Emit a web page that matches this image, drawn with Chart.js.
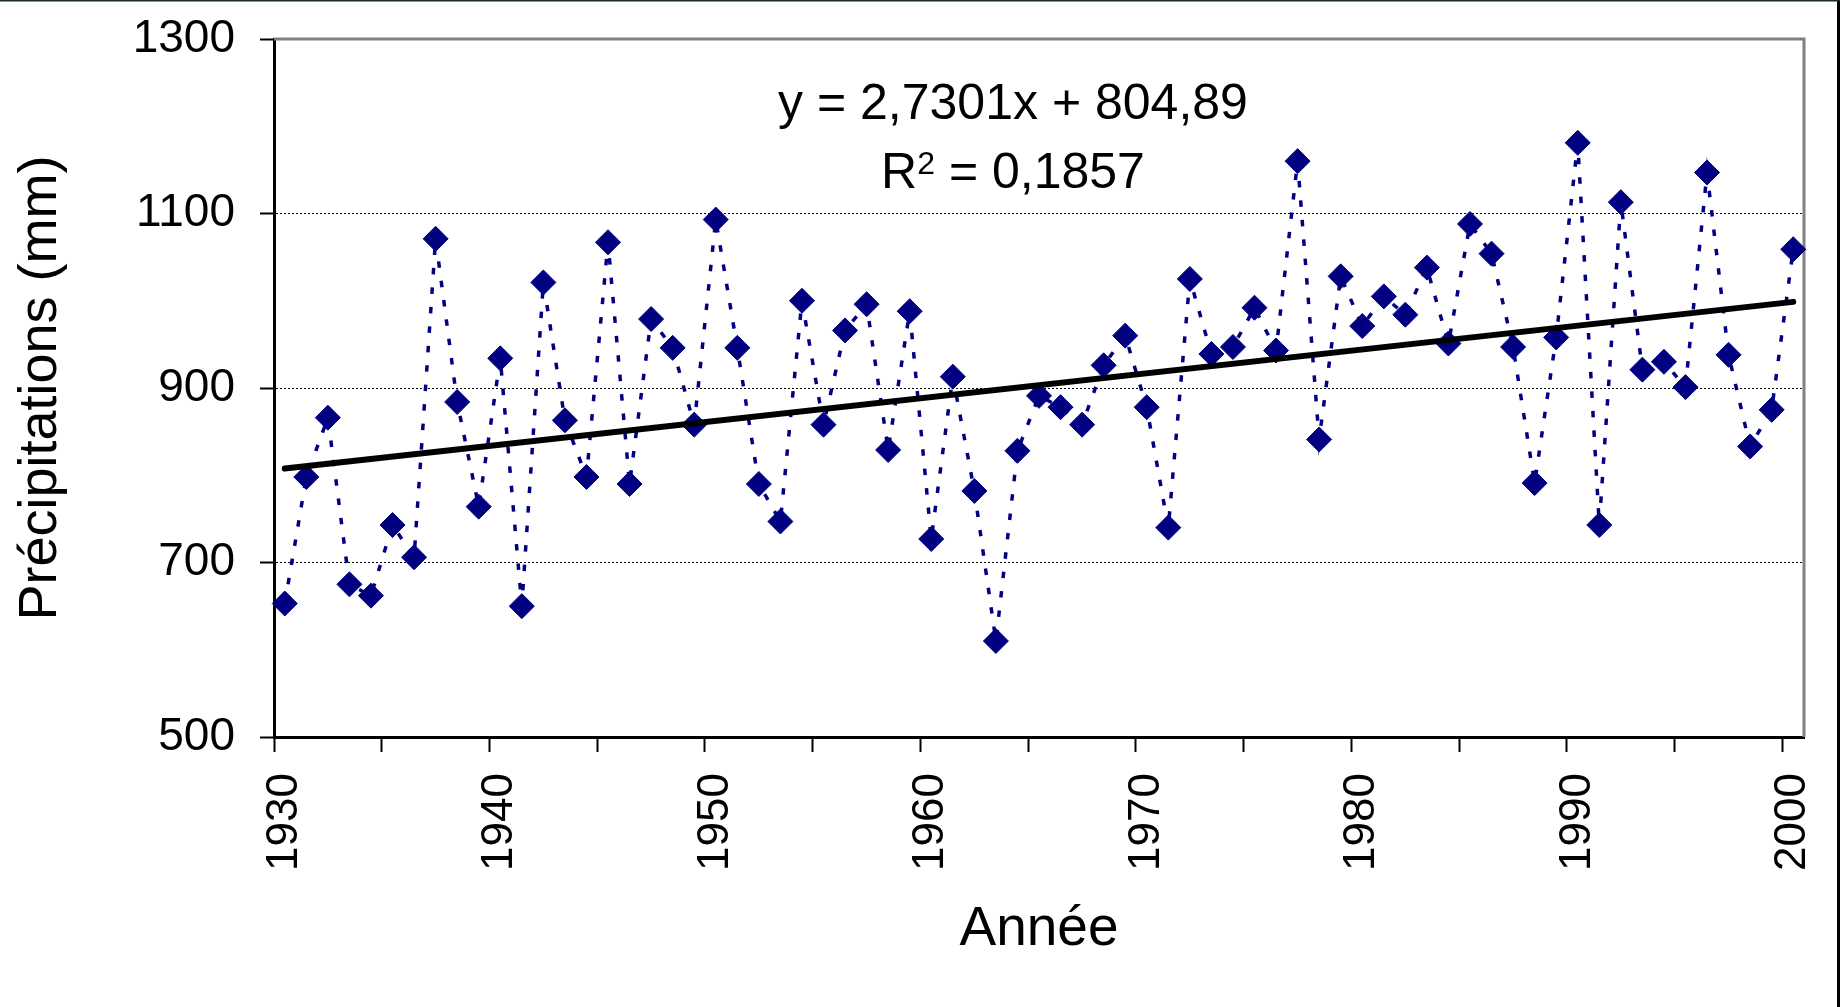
<!DOCTYPE html>
<html>
<head>
<meta charset="utf-8">
<script src="https://cdn.jsdelivr.net/npm/chart.js@4.4.0/dist/chart.umd.min.js"></script>
<style>
html,body{margin:0;padding:0;background:#fff;}
canvas{display:block;}
</style>
</head>
<body>
<canvas id="c" width="1840" height="1007"></canvas>
<script>
// ---- data ----
const years = ['1930','1931','1932','1933','1934','1935','1936','1937','1938','1939',
  '1940','1941','1942','1943','1944','1945','1946','1947','1948','1949',
  '1950','1951','1952','1953','1954','1955','1956','1957','1958','1959',
  '1960','1961','1962','1963','1964','1965','1966','1967','1968','1969',
  '1970','1971','1972','1973','1974','1975','1976','1977','1978','1979',
  '1980','1981','1982','1983','1984','1985','1986','1987','1988','1989',
  '1990','1991','1992','1993','1994','1995','1996','1997','1998','1999','2000'];

const precipitation = [653,798,866,675,662,743,706,1071,884,764,
  934,650,1021,863,798,1067,790,979,946,858,
  1093,946,790,747,1000,858,966,996,829,988,
  727,913,782,610,828,891,878,858,926,960,
  878,740,1025,939,947,992,943,1160,841,1028,
  971,1005,984,1038,951,1088,1054,947,791,958,
  1181,743,1113,921,930,901,1147,938,833,875,1059];

// trend line end values (first and last year)
const trendEnds = [807.62, 998.73];

const xTickLabels = ['1930','1940','1950','1960','1970','1980','1990','2000'];
const yTickValues = [500,700,900,1100,1300];

const equationText = 'y = 2,7301x + 804,89';
const r2Text = '0,1857';

const FONT = '"Liberation Sans", Arial, sans-serif';

const trendData = years.map((y, i) => i === 0 ? trendEnds[0] : (i === years.length - 1 ? trendEnds[1] : null));

const decor = {
  id: 'decor',
  beforeDraw(chart) {
    const {ctx, width, height} = chart;
    ctx.save();
    ctx.fillStyle = '#fff';
    ctx.fillRect(0, 0, width, height);
    ctx.restore();
  },
  beforeDatasetsDraw(chart) {
    const {ctx, chartArea: a} = chart;
    ctx.save();
    ctx.strokeStyle = '#808080';
    ctx.lineWidth = 3;
    ctx.beginPath();
    ctx.moveTo(a.left, a.top);
    ctx.lineTo(a.right, a.top);
    ctx.lineTo(a.right, a.bottom);
    ctx.stroke();
    ctx.restore();
  },
  afterDraw(chart) {
    const {ctx, chartArea: a, width, height} = chart;
    ctx.save();
    // outer chart frame (top and right visible)
    ctx.fillStyle = '#000';
    ctx.fillRect(width - 3, 0, 3, height);
    ctx.fillStyle = '#1c2b2b';
    ctx.fillRect(0, 0, width, 1.5);

    // regression equation
    const cx = a.left + (a.right - a.left) * 0.483;
    const big = '50px ' + FONT;
    const small = '32px ' + FONT;
    ctx.fillStyle = '#000';
    ctx.textBaseline = 'alphabetic';
    ctx.textAlign = 'center';
    ctx.font = big;
    ctx.fillText(equationText, cx, a.top + 80);

    const by = a.top + 149;
    ctx.textAlign = 'left';
    ctx.font = big;
    const wR = ctx.measureText('R').width;
    const rest = ' = ' + r2Text;
    const wRest = ctx.measureText(rest).width;
    ctx.font = small;
    const w2 = ctx.measureText('2').width;
    let x = cx - (wR + w2 + wRest) / 2;
    ctx.font = big;
    ctx.fillText('R', x, by); x += wR;
    ctx.font = small;
    ctx.fillText('2', x, by - 14); x += w2;
    ctx.font = big;
    ctx.fillText(rest, x, by);
    ctx.restore();
  }
};

new Chart(document.getElementById('c'), {
  type: 'line',
  data: {
    labels: years,
    datasets: [
      {
        label: 'Tendance',
        data: trendData,
        spanGaps: true,
        borderColor: '#000',
        borderWidth: 6,
        borderCapStyle: 'round',
        pointRadius: 0,
        fill: false,
        order: 0
      },
      {
        label: 'Précipitations',
        data: precipitation,
        borderColor: '#000080',
        borderWidth: 3.5,
        borderDash: [6.5, 13],
        pointStyle: 'rectRot',
        pointRadius: 12.5,
        pointBackgroundColor: '#000080',
        pointBorderColor: '#000080',
        pointBorderWidth: 1,
        tension: 0,
        fill: false,
        clip: false,
        order: 1
      }
    ]
  },
  options: {
    responsive: false,
    animation: false,
    events: [],
    layout: { padding: { left: 0, top: 39, right: 36, bottom: 0 } },
    plugins: {
      legend: { display: false },
      tooltip: { enabled: false },
      title: { display: false }
    },
    scales: {
      x: {
        type: 'category',
        offset: true,
        afterFit(s) { s.height = 270; },
        grid: {
          offset: true,
          drawOnChartArea: false,
          drawTicks: true,
          tickLength: 15,
          tickWidth: 2,
          color: 'rgba(0,0,0,0)',
          tickColor: (c) => (c.index !== undefined && c.index % 5 === 0) ? '#000' : 'rgba(0,0,0,0)'
        },
        border: { color: '#000', width: 3 },
        ticks: {
          autoSkip: false,
          maxRotation: 90,
          minRotation: 90,
          padding: 21,
          color: '#000',
          font: { family: FONT, size: 44, lineHeight: 0.5 },
          callback: function (v) {
            const l = this.getLabelForValue(v);
            return xTickLabels.includes(l) ? l : '';
          }
        },
        title: {
          display: true,
          text: 'Année',
          color: '#000',
          font: { family: FONT, size: 55 },
          padding: { top: 0, bottom: 44 }
        }
      },
      y: {
        min: yTickValues[0],
        max: yTickValues[yTickValues.length - 1],
        afterFit(s) { s.width = 274; },
        afterBuildTicks(s) { s.ticks = yTickValues.map(v => ({ value: v })); },
        grid: {
          color: (c) => (c.tick && (c.tick.value === yTickValues[0] || c.tick.value === yTickValues[yTickValues.length - 1])) ? 'rgba(0,0,0,0)' : '#000',
          lineWidth: 1,
          tickColor: '#000',
          tickLength: 14,
          tickWidth: 2
        },
        border: { color: '#000', width: 3, dash: [2, 2] },
        ticks: {
          padding: 25,
          color: '#000',
          font: { family: FONT, size: 46, lineHeight: 0.5 },
          callback: (v) => String(v)
        },
        title: {
          display: true,
          text: 'Précipitations (mm)',
          color: '#000',
          font: { family: FONT, size: 54 },
          padding: { top: 9, bottom: 0 }
        }
      }
    }
  },
  plugins: [decor]
});
</script>
</body>
</html>
